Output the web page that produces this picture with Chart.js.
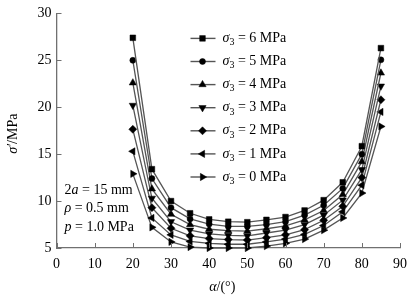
<!DOCTYPE html>
<html>
<head>
<meta charset="utf-8">
<script src="https://cdn.jsdelivr.net/npm/chart.js@4/dist/chart.umd.min.js"></script>
<style>
html,body{margin:0;padding:0;background:#fff;}
#wrap{width:415px;height:297px;position:relative;}
</style>
</head>
<body>
<div id="wrap"><canvas id="c" width="415" height="297"></canvas></div>
<script>
// ---- data ----
const alpha = [20, 25, 30, 35, 40, 45, 50, 55, 60, 65, 70, 75, 80, 85];
const s6 = [27.4, 13.4, 10.0, 8.7, 8.05, 7.8, 7.75, 8.0, 8.3, 9.0, 10.1, 12.0, 15.85, 26.3];
const s5 = [25.0, 12.4, 9.3, 8.1, 7.55, 7.3, 7.3, 7.5, 7.8, 8.5, 9.55, 11.35, 15.0, 25.05];
const s4 = [22.6, 11.3, 8.6, 7.5, 7.0, 6.85, 6.8, 7.05, 7.35, 8.0, 9.0, 10.7, 14.2, 23.65];
const s3 = [20.2, 10.3, 7.8, 6.9, 6.5, 6.35, 6.3, 6.6, 6.9, 7.5, 8.5, 10.1, 13.35, 22.25];
const s2 = [17.65, 9.3, 7.1, 6.3, 6.0, 5.9, 5.85, 6.1, 6.4, 6.95, 7.95, 9.45, 12.5, 20.8];
const s1 = [15.3, 8.2, 6.4, 5.7, 5.5, 5.4, 5.4, 5.65, 5.95, 6.45, 7.4, 8.85, 11.7, 19.5];
const s0 = [12.9, 7.2, 5.65, 5.1, 5.0, 5.0, 5.0, 5.2, 5.5, 5.95, 6.9, 8.2, 10.85, 17.95];
const seriesLabels = ['6', '5', '4', '3', '2', '1', '0'];
const xTicks = [0, 10, 20, 30, 40, 50, 60, 70, 80, 90];
const yTicks = [5, 10, 15, 20, 25, 30];

const FONT = '"Liberation Serif", "Times New Roman", serif';
const LINE_COLOR = '#555555';
const AXIS_COLOR = '#707070';
const styles = [
  {ps: 'rect', rot: 0, r: 4.0},
  {ps: 'circle', rot: 0, r: 3.0},
  {ps: 'triangle', rot: 0, r: 4.2},
  {ps: 'triangle', rot: 180, r: 4.2},
  {ps: 'rectRot', rot: 0, r: 4.0},
  {ps: 'triangle', rot: -90, r: 4.2},
  {ps: 'triangle', rot: 90, r: 4.2}
];
const allSeries = [s6, s5, s4, s3, s2, s1, s0];

const datasets = allSeries.map((s, i) => ({
  label: 'σ3 = ' + seriesLabels[i] + ' MPa',
  data: alpha.map((a, k) => ({x: a, y: s[k]})),
  borderColor: LINE_COLOR,
  borderWidth: 1.3,
  backgroundColor: '#000',
  pointBackgroundColor: '#000',
  pointBorderColor: '#000',
  pointBorderWidth: 0.5,
  pointStyle: styles[i].ps,
  pointRotation: styles[i].rot,
  pointRadius: styles[i].r,
  tension: 0,
  clip: false
}));

function drawMarker(ctx, st, x, y) {
  ctx.save();
  ctx.fillStyle = '#000';
  ctx.strokeStyle = '#000';
  ctx.lineWidth = 0.5;
  if (Chart.helpers && Chart.helpers.drawPoint) {
    Chart.helpers.drawPoint(ctx, {pointStyle: st.ps, rotation: st.rot, radius: st.r, borderWidth: 0.5}, x, y);
  }
  ctx.restore();
}

function drawRuns(ctx, runs, x, y, size) {
  let cx = x;
  runs.forEach(r => {
    const fs = r.sub ? Math.round(size * 0.68) : size;
    ctx.font = (r.it ? 'italic ' : '') + fs + 'px ' + FONT;
    ctx.fillText(r.t, cx, r.sub ? y + size * 0.3 : y);
    cx += ctx.measureText(r.t).width;
  });
  return cx - x;
}
function runsWidth(ctx, runs, size) {
  let w = 0;
  runs.forEach(r => {
    const fs = r.sub ? Math.round(size * 0.68) : size;
    ctx.font = (r.it ? 'italic ' : '') + fs + 'px ' + FONT;
    w += ctx.measureText(r.t).width;
  });
  return w;
}

const decorPlugin = {
  id: 'decor',
  afterDraw(chart) {
    const ctx = chart.ctx;
    const ca = chart.chartArea;
    const xs = chart.scales.x, ys = chart.scales.y;
    ctx.save();
    ctx.strokeStyle = AXIS_COLOR;
    ctx.lineWidth = 1;
    xTicks.forEach(v => {
      const px = Math.round(xs.getPixelForValue(v)) + 0.5;
      ctx.beginPath(); ctx.moveTo(px, ca.bottom); ctx.lineTo(px, ca.bottom - 5); ctx.stroke();
    });
    yTicks.forEach(v => {
      const py = Math.round(ys.getPixelForValue(v)) + 0.5;
      ctx.beginPath(); ctx.moveTo(ca.left, py); ctx.lineTo(ca.left + 5, py); ctx.stroke();
    });

    // legend
    ctx.fillStyle = '#000';
    ctx.textBaseline = 'middle';
    const lx = ca.left + 134, ly0 = ca.top + 25, dy = 23.1;
    datasets.forEach((d, i) => {
      const y = ly0 + i * dy;
      ctx.strokeStyle = LINE_COLOR;
      ctx.lineWidth = 1.4;
      ctx.beginPath(); ctx.moveTo(lx, y); ctx.lineTo(lx + 25, y); ctx.stroke();
      drawMarker(ctx, styles[i], lx + 12, y);
      ctx.fillStyle = '#000';
      drawRuns(ctx, [{t: 'σ', it: true}, {t: '3', sub: true}, {t: ' = ' + seriesLabels[i] + ' MPa'}], lx + 32, y, 14);
    });

    // annotation text
    const ax = ca.left + 8;
    drawRuns(ctx, [{t: '2'}, {t: 'a', it: true}, {t: ' = 15 mm'}], ax, 190, 14);
    drawRuns(ctx, [{t: 'ρ', it: true}, {t: ' = 0.5 mm'}], ax, 208.5, 14);
    drawRuns(ctx, [{t: 'p', it: true}, {t: ' = 1.0 MPa'}], ax, 227, 14);

    // x title
    const xr = [{t: 'α', it: true}, {t: '/(°)'}];
    const xw = runsWidth(ctx, xr, 14);
    drawRuns(ctx, xr, (ca.left + ca.right) / 2 - xw / 2 - 6, 287, 14);

    // y title
    const yr = [{t: 'σ′', it: true}, {t: '/MPa'}];
    const yw = runsWidth(ctx, yr, 14);
    ctx.translate(13, (ca.top + ca.bottom) / 2 + 3);
    ctx.rotate(-Math.PI / 2);
    drawRuns(ctx, yr, -yw / 2, 0, 14);
    ctx.restore();
  }
};

new Chart(document.getElementById('c'), {
  type: 'line',
  data: {datasets},
  options: {
    responsive: false,
    animation: false,
    devicePixelRatio: 1,
    layout: {padding: {left: 0, top: 7, right: 11, bottom: 0}},
    plugins: {legend: {display: false}, tooltip: {enabled: false}},
    scales: {
      x: {
        type: 'linear', min: 0, max: 90,
        afterFit: s => { s.height = 49; },
        afterBuildTicks: s => { s.ticks = xTicks.map(v => ({value: v})); },
        grid: {display: true, drawOnChartArea: false, drawTicks: false},
        border: {display: true, color: AXIS_COLOR, width: 1.3},
        ticks: {color: '#000', padding: 8, maxRotation: 0, font: {family: FONT, size: 14}}
      },
      y: {
        type: 'linear', min: 5, max: 30,
        afterFit: s => { s.width = 56.5; },
        afterBuildTicks: s => { s.ticks = yTicks.map(v => ({value: v})); },
        grid: {display: true, drawOnChartArea: false, drawTicks: false},
        border: {display: true, color: AXIS_COLOR, width: 1.3},
        ticks: {color: '#000', padding: 5, font: {family: FONT, size: 14}}
      }
    }
  },
  plugins: [decorPlugin]
});
</script>
</body>
</html>
